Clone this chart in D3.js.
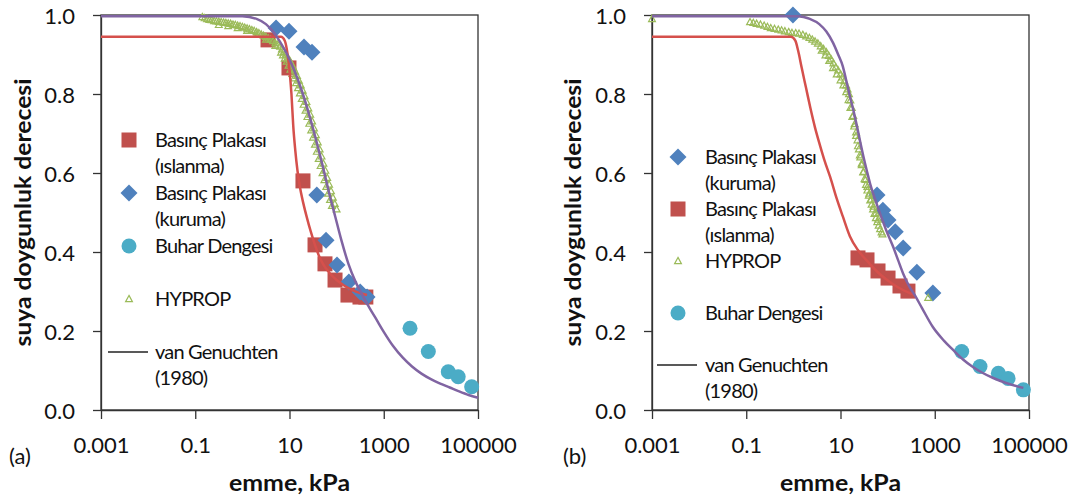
<!DOCTYPE html>
<html><head><meta charset="utf-8">
<script src="https://cdn.jsdelivr.net/npm/d3@7"></script>
<style>
html,body{margin:0;padding:0;background:#fff;}
svg{display:block;font-family:Lato,"Open Sans",sans-serif;}
</style></head>
<body><svg id="c" width="1078" height="499"></svg>
<script>
// ---------------- DATA (suction in kPa, degree of saturation) ----------------
const xTicks = [0.001, 0.1, 10, 1000, 100000];
const xTickLabels = ["0.001", "0.1", "10", "1000", "100000"];
const yTicks = [0, 0.2, 0.4, 0.6, 0.8, 1.0];
const yTickLabels = ["0.0", "0.2", "0.4", "0.6", "0.8", "1.0"];
const xTitle = "emme, kPa";
const yTitle = "suya doygunluk derecesi";
const panelLabels = ["(a)", "(b)"];

// Panel (a)
const a_wet_x = [3.5, 9.75, 19.3, 34.8, 56.6, 92.5, 174, 313, 417];
const a_wet_y = [0.937, 0.866, 0.580, 0.418, 0.370, 0.329, 0.291, 0.286, 0.286];
const a_dry_x = [5.18, 9.75, 20.3, 30.0, 38.0, 59.6, 102, 182, 316, 442];
const a_dry_y = [0.967, 0.959, 0.919, 0.906, 0.544, 0.430, 0.367, 0.324, 0.299, 0.286];
const a_vap_x = [3610, 8830, 23400, 38000, 73400];
const a_vap_y = [0.207, 0.148, 0.097, 0.084, 0.059];
// HYPROP (dense band) read as log10(kPa) and saturation
const a_hyp_log10x = [-0.85, -0.80, -0.75, -0.70, -0.65, -0.60, -0.55, -0.50, -0.45, -0.40, -0.35, -0.30, -0.25, -0.20, -0.15, -0.10, -0.05, 0.00, 0.05, 0.10, 0.15, 0.20, 0.25, 0.30, 0.35, 0.40, 0.45, 0.50, 0.55, 0.60, 0.65, 0.70, 0.75, 0.80, 0.84, 0.88, 0.92, 0.96, 1.00, 1.04, 1.08, 1.12, 1.16, 1.20, 1.24, 1.28, 1.32, 1.36, 1.40, 1.44, 1.48, 1.52, 1.56, 1.60, 1.64, 1.68, 1.72, 1.76, 1.80, 1.84, 1.88, 1.92, 1.96, 2.00,
  -0.50, -0.30, -0.10, 0.10, 0.30, 0.50, 0.70, 0.82, 0.86, 0.90, 0.94, 0.98, 1.02, 1.06, 1.10, 1.14, 1.18, 1.22, 1.26, 1.30, 1.34, 1.38, 1.42, 1.46, 1.50, 1.54, 1.58, 1.62, 1.66, 1.70, 1.74, 1.78, 1.82, 1.86, 1.90];
const a_hyp_y = [0.995, 0.992, 0.990, 0.988, 0.987, 0.985, 0.984, 0.983, 0.982, 0.981, 0.980, 0.979, 0.978, 0.976, 0.975, 0.973, 0.972, 0.970, 0.968, 0.966, 0.964, 0.962, 0.960, 0.957, 0.954, 0.951, 0.948, 0.945, 0.941, 0.938, 0.934, 0.929, 0.925, 0.920, 0.913, 0.907, 0.900, 0.893, 0.886, 0.877, 0.867, 0.857, 0.846, 0.834, 0.822, 0.809, 0.795, 0.780, 0.764, 0.748, 0.731, 0.713, 0.696, 0.678, 0.660, 0.642, 0.624, 0.606, 0.588, 0.571, 0.554, 0.538, 0.522, 0.508,
  0.975, 0.972, 0.967, 0.960, 0.950, 0.938, 0.922, 0.905, 0.898, 0.890, 0.882, 0.872, 0.862, 0.851, 0.840, 0.828, 0.815, 0.802, 0.788, 0.773, 0.758, 0.742, 0.725, 0.708, 0.690, 0.672, 0.654, 0.636, 0.618, 0.600, 0.582, 0.565, 0.548, 0.532, 0.517];
const a_vgDry_x = [0.001, 1, 2.0, 3.16, 4.47, 6.31, 8.91, 12.6, 17.8, 25.1, 35.5, 50.1, 70.8, 93.3, 126, 178, 251, 355, 501, 708, 1000, 1580, 2510, 3980, 6310, 10000, 15800, 25100, 39800, 63100, 100000];
const a_vgDry_y = [0.997, 0.997, 0.990, 0.977, 0.958, 0.932, 0.900, 0.860, 0.812, 0.755, 0.690, 0.620, 0.545, 0.490, 0.430, 0.370, 0.325, 0.290, 0.258, 0.228, 0.198, 0.162, 0.133, 0.110, 0.092, 0.078, 0.067, 0.057, 0.047, 0.038, 0.031];
const a_vgWet_x = [0.001, 6.61, 7.94, 9.12, 10.0, 11.0, 12.0, 13.2, 14.8, 16.6, 19.5, 23.4, 28.2, 34.7, 41.7, 51.3, 70.8, 100, 141, 224, 316, 442];
const a_vgWet_y = [0.945, 0.945, 0.935, 0.900, 0.860, 0.800, 0.720, 0.660, 0.605, 0.565, 0.525, 0.487, 0.452, 0.418, 0.392, 0.370, 0.347, 0.329, 0.316, 0.303, 0.296, 0.291];

// Panel (b)
const b_dry_x = [0.98, 59.6, 79.4, 102, 145, 214, 417, 912];
const b_dry_y = [1.0, 0.544, 0.506, 0.481, 0.451, 0.410, 0.349, 0.296];
const b_wet_x = [23.5, 36.5, 62.5, 102, 183, 270];
const b_wet_y = [0.385, 0.380, 0.352, 0.334, 0.314, 0.301];
const b_vap_x = [3730, 9120, 22400, 36000, 76000];
const b_vap_y = [0.148, 0.110, 0.093, 0.080, 0.051];
const b_hyp_log10x = [-3.0, -0.92, -0.85, -0.78, -0.70, -0.62, -0.55, -0.48, -0.40, -0.32, -0.25, -0.18, -0.10, -0.03, 0.05, 0.12, 0.20, 0.27, 0.34, 0.40, 0.46, 0.52, 0.58, 0.64, 0.70, 0.75, 0.80, 0.85, 0.90, 0.95, 1.00, 1.04, 1.08, 1.12, 1.15, 1.18, 1.21, 1.24, 1.27, 1.30, 1.33, 1.36, 1.39, 1.42, 1.45, 1.48, 1.51, 1.54, 1.57, 1.60, 1.63, 1.66, 1.69, 1.72, 1.75, 1.78, 1.81, 1.84, 1.87, 1.89,
  0.60, 0.68, 0.76, 0.84, 0.92, 1.00, 1.06, 1.12, 1.17, 1.21, 1.25, 1.29, 1.33, 1.37, 1.41, 1.45, 1.49, 1.53, 1.57, 1.61, 1.65, 1.70, 1.75, 1.80, 2.86];
const b_hyp_y = [0.990, 0.982, 0.980, 0.978, 0.976, 0.973, 0.970, 0.967, 0.965, 0.963, 0.961, 0.959, 0.957, 0.955, 0.954, 0.953, 0.950, 0.946, 0.942, 0.938, 0.933, 0.928, 0.921, 0.914, 0.906, 0.897, 0.888, 0.878, 0.868, 0.860, 0.850, 0.842, 0.833, 0.822, 0.812, 0.800, 0.784, 0.765, 0.745, 0.724, 0.703, 0.683, 0.660, 0.640, 0.620, 0.602, 0.585, 0.570, 0.556, 0.543, 0.531, 0.520, 0.508, 0.497, 0.486, 0.476, 0.467, 0.458, 0.450, 0.445,
  0.910, 0.898, 0.884, 0.866, 0.850, 0.835, 0.822, 0.805, 0.785, 0.765, 0.742, 0.718, 0.694, 0.668, 0.645, 0.624, 0.603, 0.583, 0.565, 0.548, 0.533, 0.515, 0.498, 0.482, 0.284];
const b_vgDry_x = [0.001, 1.26, 2.24, 3.55, 5.01, 6.92, 8.91, 11.2, 13.2, 15.8, 19.1, 22.4, 26.3, 30.2, 36.3, 42.7, 53.7, 69.2, 93.3, 129, 166, 214, 282, 380, 537, 912, 1580, 2450, 3980, 6460, 10000, 17400, 31600, 75900];
const b_vgDry_y = [0.997, 0.997, 0.990, 0.977, 0.958, 0.930, 0.900, 0.870, 0.835, 0.795, 0.755, 0.718, 0.678, 0.645, 0.605, 0.572, 0.535, 0.497, 0.455, 0.415, 0.380, 0.345, 0.315, 0.290, 0.258, 0.210, 0.175, 0.152, 0.128, 0.109, 0.095, 0.081, 0.069, 0.056];
const b_vgWet_x = [0.001, 0.891, 1.10, 1.26, 1.51, 1.86, 2.29, 2.88, 3.63, 4.57, 6.03, 8.32, 11.2, 15.8, 23.4, 36.3, 60.3, 97.7, 158, 295, 380];
const b_vgWet_y = [0.945, 0.945, 0.935, 0.910, 0.865, 0.815, 0.765, 0.715, 0.672, 0.632, 0.590, 0.535, 0.490, 0.440, 0.405, 0.378, 0.350, 0.329, 0.312, 0.296, 0.291];

const legendTextA = [["Basınç Plakası", "(ıslanma)"], ["Basınç Plakası", "(kuruma)"], ["Buhar Dengesi"], ["HYPROP"], ["van Genuchten", "(1980)"]];
const legendTypesA = ["square", "diamond", "circle", "triangle", "line"];
const legendTextB = [["Basınç Plakası", "(kuruma)"], ["Basınç Plakası", "(ıslanma)"], ["HYPROP"], ["Buhar Dengesi"], ["van Genuchten", "(1980)"]];
const legendTypesB = ["diamond", "square", "triangle", "circle", "line"];

// ---------------- STYLE ----------------
const C = {wet: "#C0504D", dry: "#4F81BD", vap: "#4BACC6", hyp: "#9BBB59", vgDry: "#8064A2", vgWet: "#D5504C", axis: "#333", text: "#111"};
const zip = (xs, ys) => xs.map((x, i) => [x, ys[i]]);
const zipLog = (lx, ys) => lx.map((l, i) => [Math.pow(10, l), ys[i]]);

const svg = d3.select("#c");

function drawMarker(g, type, x, y) {
  if (type === "square") {
    g.append("rect").attr("x", x - 7.5).attr("y", y - 7.5).attr("width", 15).attr("height", 15).attr("fill", C.wet);
  } else if (type === "diamond") {
    g.append("path").attr("d", `M${x},${y - 8.5}L${x + 8.5},${y}L${x},${y + 8.5}L${x - 8.5},${y}Z`).attr("fill", C.dry);
  } else if (type === "circle") {
    g.append("circle").attr("cx", x).attr("cy", y).attr("r", 7.5).attr("fill", C.vap);
  } else if (type === "triangle") {
    g.append("path").attr("d", `M${x},${y - 3.6}L${x + 3.4},${y + 2.6}L${x - 3.4},${y + 2.6}Z`)
      .attr("fill", "none").attr("stroke", C.hyp).attr("stroke-width", 1.2);
  }
}

function panel(opt) {
  const {x0, x1, y0, y1} = opt;
  const x = d3.scaleLog().domain([0.001, 100000]).range([x0, x1]);
  const y = d3.scaleLinear().domain([0, 1]).range([y1, y0]);
  const g = svg.append("g");

  g.append("rect").attr("x", x0).attr("y", y0).attr("width", x1 - x0).attr("height", y1 - y0)
    .attr("fill", "none").attr("stroke", C.axis).attr("stroke-width", 1.3);

  const xa = g.append("g").attr("transform", `translate(0,${y1})`)
    .call(d3.axisBottom(x).tickValues(xTicks).tickFormat((d, i) => xTickLabels[i]).tickSize(9).tickSizeOuter(0));
  const ya = g.append("g").attr("transform", `translate(${x0},0)`)
    .call(d3.axisLeft(y).tickValues(yTicks).tickFormat((d, i) => yTickLabels[i]).tickSize(8).tickSizeOuter(0));
  [xa, ya].forEach(a => {
    a.select(".domain").attr("stroke", C.axis).attr("stroke-width", 1.3);
    a.selectAll(".tick line").attr("stroke", C.axis).attr("stroke-width", 1.3);
    a.selectAll("text").attr("fill", C.text).style("font-size", "22px").style("font-family", "Lato");
  });
  xa.selectAll("text").attr("y", 43).attr("dy", 0);
  ya.selectAll("text").attr("x", -26).attr("dy", 8);

  g.append("text").attr("x", (x0 + x1) / 2).attr("y", 491).attr("text-anchor", "middle")
    .attr("textLength", 121).attr("lengthAdjust", "spacingAndGlyphs")
    .style("font-size", "23px").style("font-weight", "bold").attr("fill", C.text).text(xTitle);
  g.append("text").attr("transform", `translate(${opt.ytx},${(y0 + y1) / 2}) rotate(-90)`).attr("text-anchor", "middle")
    .attr("textLength", 268).attr("lengthAdjust", "spacingAndGlyphs")
    .style("font-size", "23px").style("font-weight", "bold").attr("fill", C.text).text(yTitle);
  g.append("text").attr("x", opt.plx).attr("y", 464).style("font-size", "22px").attr("fill", C.text).text(opt.pl);

  const plot = g.append("g");
  opt.squares.forEach(d => drawMarker(plot, "square", x(d[0]), y(d[1])));
  opt.diamonds.forEach(d => drawMarker(plot, "diamond", x(d[0]), y(d[1])));
  opt.circles.forEach(d => drawMarker(plot, "circle", x(d[0]), y(d[1])));
  opt.triangles.forEach(d => drawMarker(plot, "triangle", x(d[0]), y(d[1])));

  const line = d3.line().x(d => x(d[0])).y(d => y(d[1])).curve(d3.curveMonotoneX);
  plot.append("path").attr("d", line(opt.vgWet)).attr("fill", "none").attr("stroke", C.vgWet).attr("stroke-width", 2.5);
  plot.append("path").attr("d", line(opt.vgDry)).attr("fill", "none").attr("stroke", C.vgDry).attr("stroke-width", 2.5);

  const lg = g.append("g");
  opt.legTypes.forEach((t, i) => {
    const cy = opt.legY + i * opt.legDy;
    if (t === "line") {
      lg.append("line").attr("x1", opt.legMx - 21).attr("x2", opt.legMx + 19).attr("y1", cy).attr("y2", cy)
        .attr("stroke", "#222").attr("stroke-width", 1.5);
    } else drawMarker(lg, t, opt.legMx, cy);
    opt.legText[i].forEach((s, j) => {
      lg.append("text").attr("x", opt.legTx).attr("y", cy + 7 + j * 26)
        .style("font-size", "20px").style("letter-spacing", "-0.8px").attr("fill", C.text).text(s);
    });
  });
}

panel({x0: 101, x1: 478, y0: 15, y1: 410, ytx: 31, plx: 9, pl: panelLabels[0],
  squares: zip(a_wet_x, a_wet_y), diamonds: zip(a_dry_x, a_dry_y), circles: zip(a_vap_x, a_vap_y), triangles: zipLog(a_hyp_log10x, a_hyp_y),
  vgDry: zip(a_vgDry_x, a_vgDry_y), vgWet: zip(a_vgWet_x, a_vgWet_y),
  legTypes: legendTypesA, legText: legendTextA, legY: 140, legDy: 53, legMx: 129, legTx: 155});
panel({x0: 652, x1: 1029, y0: 15, y1: 410, ytx: 581, plx: 563, pl: panelLabels[1],
  squares: zip(b_wet_x, b_wet_y), diamonds: zip(b_dry_x, b_dry_y), circles: zip(b_vap_x, b_vap_y), triangles: zipLog(b_hyp_log10x, b_hyp_y),
  vgDry: zip(b_vgDry_x, b_vgDry_y), vgWet: zip(b_vgWet_x, b_vgWet_y),
  legTypes: legendTypesB, legText: legendTextB, legY: 157, legDy: 52, legMx: 678, legTx: 705});
</script></body></html>
